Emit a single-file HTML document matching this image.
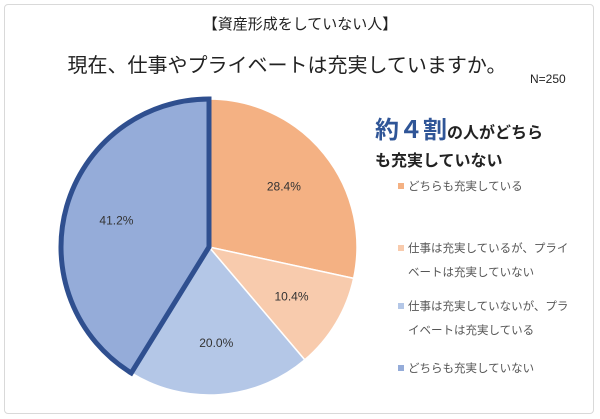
<!DOCTYPE html>
<html><head><meta charset="utf-8">
<style>
body{margin:0;width:600px;height:419px;background:#fff;font-family:"Liberation Sans","Noto Sans CJK JP",sans-serif;overflow:hidden}
#frame{position:absolute;left:4px;top:4px;width:588px;height:408px;border:1.5px solid #d9d9d9;border-radius:4px}
.t{position:absolute;white-space:nowrap;color:#222}
</style></head><body>
<div id="frame"></div>
<div class="t" style="left:0;width:600px;text-align:center;top:13px;font-size:15px">【資産形成をしていない人】</div>
<div class="t" style="left:0;width:574px;text-align:center;top:49px;font-size:20px">現在、仕事やプライベートは充実していますか。</div>
<div class="t" style="left:530px;top:72px;font-size:12px">N=250</div>
<div class="t" style="left:375px;top:110px;font-size:16px;font-weight:bold"><span style="color:#2f5597;font-size:24px">約４割</span>の人がどちら</div>
<div class="t" style="left:375px;top:147px;font-size:16px;font-weight:bold">も充実していない</div>
<svg id="pie" width="600" height="419" style="position:absolute;left:0;top:0"></svg>
<div id="legend"></div>
<script>
const categories=["どちらも充実している","仕事は充実しているが、プライベートは充実していない","仕事は充実していないが、プライベートは充実している","どちらも充実していない"];
const values=[28.4,10.4,20.0,41.2];
const labels=["28.4%","10.4%","20.0%","41.2%"];
const colors=["#f4b183","#f8cbad","#b4c7e7","#95acd9"];
const legendLines=[["どちらも充実している"],["仕事は充実しているが、プライ","ベートは充実していない"],["仕事は充実していないが、プラ","イベートは充実している"],["どちらも充実していない"]];
const legendTops=[178,240,298,360];
const svg=document.getElementById('pie');
const NS="http://www.w3.org/2000/svg";
const cx=209,cy=247,r=148;
const total=values.reduce((a,b)=>a+b,0);
function pt(a,rr){return [cx+rr*Math.sin(a),cy-rr*Math.cos(a)];}
let acc=0;
values.forEach((v,i)=>{
  const a0=acc/total*2*Math.PI; acc+=v; const a1=acc/total*2*Math.PI;
  const p0=pt(a0,r),p1=pt(a1,r);
  const large=(a1-a0)>Math.PI?1:0;
  const path=document.createElementNS(NS,'path');
  path.setAttribute('d',`M${cx},${cy} L${p0[0]},${p0[1]} A${r},${r} 0 ${large} 1 ${p1[0]},${p1[1]} Z`);
  path.setAttribute('fill',colors[i]);
  path.setAttribute('stroke',i===3?'#2f4f8f':'#fff');
  path.setAttribute('stroke-width',i===3?5:1.5);
  path.setAttribute('stroke-linejoin','miter');
  
  
  svg.appendChild(path);
  const m=(a0+a1)/2,lp=pt(m,r*0.65);
  const t=document.createElementNS(NS,'text');
  t.setAttribute('x',lp[0]);t.setAttribute('y',lp[1]+4);
  t.setAttribute('text-anchor','middle');t.setAttribute('font-size','12');t.setAttribute('fill','#333');
  t.textContent=labels[i];
  
  
  svg.appendChild(t);
});
const lg=document.getElementById('legend');
legendLines.forEach((lines,i)=>{
  const sw=document.createElement('div');
  
  
  sw.style.cssText=`position:absolute;left:398px;top:${legendTops[i]+5}px;width:6px;height:6px;background:${colors[i]}`;
  lg.appendChild(sw);
  lines.forEach((ln,j)=>{
    const d=document.createElement('div');
    d.className='t';
    
    
    d.style.cssText=`left:408px;top:${legendTops[i]+j*24}px;font-size:11.5px;color:#555`;
    d.textContent=ln;
    lg.appendChild(d);
  });
});
</script>
</body></html>
